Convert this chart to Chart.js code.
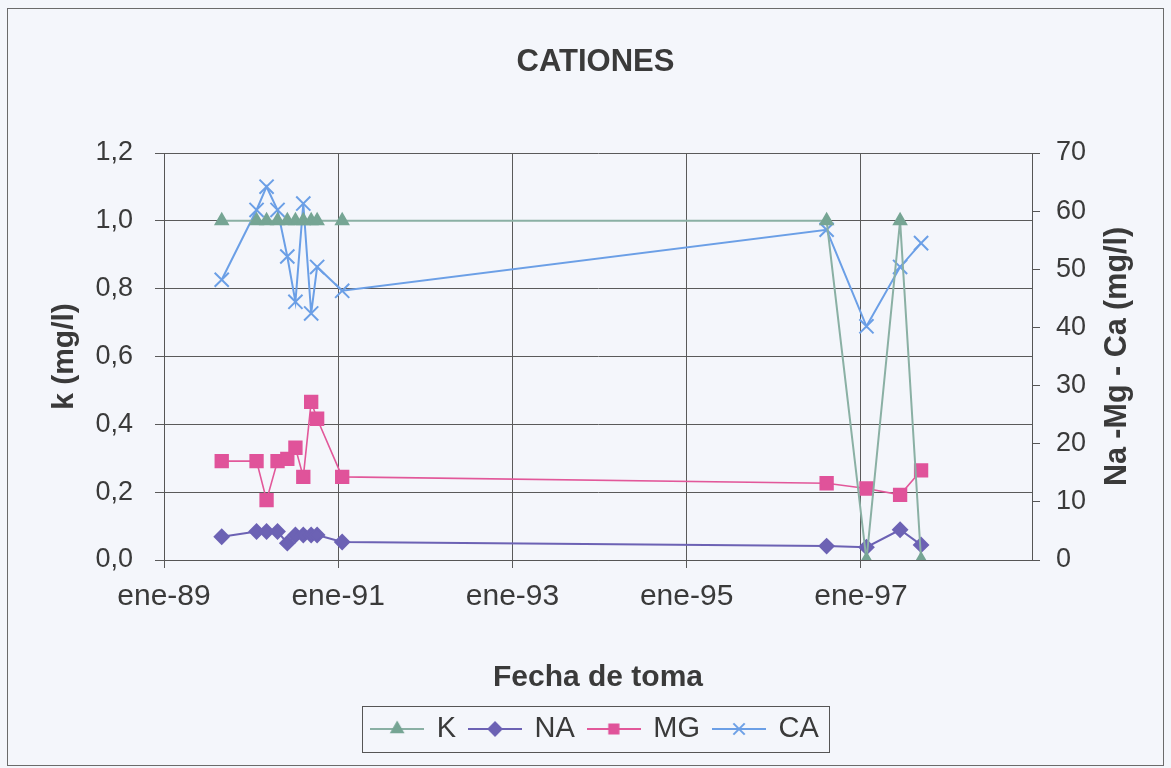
<!DOCTYPE html>
<html lang="es">
<head>
<meta charset="utf-8">
<title>Cationes</title>
<script src="https://cdn.jsdelivr.net/npm/chart.js@4.4.1/dist/chart.umd.min.js"></script>
<style>
  html, body { margin: 0; padding: 0; background: #f4f6fb; }
  #wrap { position: relative; width: 1171px; height: 768px; }
</style>
</head>
<body>
<div id="wrap"><canvas id="grafico"></canvas></div>
<script>
// Fechas de toma y concentraciones
const fechas = [
  '1989-08-31', '1990-01-24', '1990-03-07', '1990-04-22', '1990-06-02',
  '1990-07-06', '1990-08-08', '1990-09-10', '1990-10-05', '1991-01-18',
  '1996-08-10', '1997-01-24', '1997-06-14', '1997-09-10'
];
const valoresK  = [1.0, 1.0, 1.0, 1.0, 1.0, 1.0, 1.0, 1.0, 1.0, 1.0, 1.0, 0.0, 1.0, 0.0];
const valoresNA = [4.0, 4.9, 4.9, 4.9, 2.9, 4.3, 4.3, 4.3, 4.3, 3.1, 2.4, 2.2, 5.2, 2.6];
const valoresMG = [17.0, 17.0, 10.3, 17.0, 17.4, 19.3, 14.3, 27.2, 24.3, 14.3, 13.2, 12.3, 11.2, 15.4];
const valoresCA = [48.2, 60.2, 64.2, 60.2, 52.2, 44.4, 61.3, 42.4, 50.4, 46.3, 56.8, 40.2, 50.4, 54.5];

// Ejes
const ticksFechas = ['1989-01-01', '1991-01-01', '1993-01-01', '1995-01-01', '1997-01-01'];
const etiquetasX = ['ene-89', 'ene-91', 'ene-93', 'ene-95', 'ene-97'];
const fechaMin = '1989-01-01';
const fechaMax = '1998-12-19';

const FUENTE = "'Liberation Sans', Arial, sans-serif";
const GRIS = '#3a3a3a';
const ALTO = 768;
const ABAJO_AREA = 560;
const PAD_IZQ = 20;
const PAD_ABAJO = 14.5;
const ALTO_LEYENDA = 47; // alto medido de la leyenda

const dias = (f) => (Date.parse(f) - Date.parse(fechaMin)) / 864e5;
const puntos = (vals) => vals.map((v, i) => ({ x: dias(fechas[i]), y: v }));

// pequeño dibujo de linea + marcador para la leyenda
function muestra(color, relleno, estilo, radio) {
  const c = document.createElement('canvas');
  c.width = 54; c.height = 24;
  const g = c.getContext('2d');
  g.strokeStyle = color; g.lineWidth = 2;
  g.beginPath(); g.moveTo(0, 12); g.lineTo(54, 12); g.stroke();
  g.fillStyle = relleno; g.strokeStyle = relleno;
  Chart.helpers.drawPoint(g, { pointStyle: estilo, radius: radio, borderWidth: estilo === 'crossRot' ? 2 : 1, rotation: 0 }, 27, 12);
  return c;
}

const series = [
  { label: 'K', data: puntos(valoresK), yAxisID: 'yK', borderColor: '#8ab0a4', pointBackgroundColor: '#76a594', pointBorderColor: '#76a594', pointStyle: 'triangle', pointRadius: 7, borderWidth: 2 },
  { label: 'NA', data: puntos(valoresNA), yAxisID: 'yR', borderColor: '#6c62b4', pointBackgroundColor: '#6c62b4', pointBorderColor: '#6c62b4', pointStyle: 'rectRot', pointRadius: 7, borderWidth: 2 },
  { label: 'MG', data: puntos(valoresMG), yAxisID: 'yR', borderColor: '#e2589a', pointBackgroundColor: '#e0539a', pointBorderColor: '#e0539a', pointStyle: 'rect', pointRadius: 9, borderWidth: 1.6 },
  { label: 'CA', data: puntos(valoresCA), yAxisID: 'yR', borderColor: '#6b9fe6', pointBackgroundColor: '#6b9fe6', pointBorderColor: '#6b9fe6', pointStyle: 'crossRot', pointRadius: 10, pointBorderWidth: 2, borderWidth: 2 }
];
series.forEach((s) => { s.fill = false; s.tension = 0; s.pointHoverRadius = s.pointRadius; });

const marcoPlugin = {
  id: 'marco',
  beforeDraw(chart) {
    const ctx = chart.ctx;
    ctx.save();
    ctx.strokeStyle = '#6b6b6b';
    ctx.lineWidth = 1;
    ctx.strokeRect(7.5, 8.5, 1156, 757);
    ctx.restore();
  },
  afterDraw(chart) {
    const ctx = chart.ctx;
    const a = chart.chartArea;
    // titulo del eje derecho, de abajo hacia arriba
    ctx.save();
    ctx.fillStyle = GRIS;
    ctx.font = 'bold 30.5px ' + FUENTE;
    ctx.textAlign = 'center';
    ctx.textBaseline = 'middle';
    ctx.translate(1118, (a.top + a.bottom) / 2);
    ctx.rotate(-Math.PI / 2);
    ctx.fillText('Na -Mg - Ca (mg/l)', 0, 0);
    ctx.restore();
    // recuadro de la leyenda
    const cajas = chart.legend.legendHitBoxes;
    if (cajas && cajas.length) {
      const izq = Math.min(...cajas.map((b) => b.left)) - 10;
      const der = Math.max(...cajas.map((b) => b.left + b.width)) + 10;
      const arr = Math.min(...cajas.map((b) => b.top)) - 9;
      const aba = Math.max(...cajas.map((b) => b.top + b.height)) + 8;
      ctx.save();
      ctx.strokeStyle = '#555';
      ctx.lineWidth = 1;
      ctx.strokeRect(Math.round(izq) + 0.5, Math.round(arr) + 0.5, Math.round(der - izq), Math.round(aba - arr));
      ctx.restore();
    }
  }
};

new Chart(document.getElementById('grafico'), {
  type: 'line',
  data: { datasets: series },
  plugins: [marcoPlugin],
  options: {
    responsive: true,
    maintainAspectRatio: false,
    animation: false,
    layout: { padding: { left: PAD_IZQ, right: 0, top: 0, bottom: PAD_ABAJO } },
    plugins: {
      title: {
        display: true,
        text: 'CATIONES',
        color: GRIS,
        font: { family: FUENTE, size: 31, weight: 'bold' },
        padding: { top: 43.4, bottom: 72.4 }
      },
      legend: {
        position: 'bottom',
        labels: {
          color: GRIS,
          font: { family: FUENTE, size: 29 },
          usePointStyle: true,
          pointStyleWidth: 50,
          padding: 14,
          generateLabels: (chart) => chart.data.datasets.map((d, i) => ({
            text: d.label,
            fontColor: GRIS,
            pointStyle: muestra(d.borderColor, d.pointBackgroundColor, d.pointStyle, d.pointStyle === 'crossRot' ? 8 : 6.5),
            lineWidth: 0,
            strokeStyle: 'transparent',
            fillStyle: 'transparent',
            datasetIndex: i,
            hidden: false
          }))
        }
      },
      tooltip: { enabled: false }
    },
    scales: {
      x: {
        type: 'linear',
        min: dias(fechaMin),
        max: dias(fechaMax),
        afterBuildTicks: (s) => { s.ticks = ticksFechas.map((f) => ({ value: dias(f) })); },
        afterFit: (s) => { s.height = ALTO - ABAJO_AREA - (s.chart.legend.height || ALTO_LEYENDA) - PAD_ABAJO; },
        ticks: {
          autoSkip: false,
          maxRotation: 0,
          color: GRIS,
          padding: 11,
          font: { family: FUENTE, size: 30 },
          callback: (v, i) => etiquetasX[i]
        },
        grid: { color: '#5a5a5a', lineWidth: 1, tickLength: 8 },
        border: { color: '#555', width: 1 },
        title: {
          display: true,
          text: 'Fecha de toma',
          color: GRIS,
          font: { family: FUENTE, size: 30, weight: 'bold' },
          padding: { top: 0, bottom: 5 }
        }
      },
      yK: {
        position: 'left',
        min: 0,
        max: 1.2,
        afterFit: (s) => { s.width = 164 - PAD_IZQ; },
        ticks: {
          stepSize: 0.2,
          color: GRIS,
          padding: 22,
          font: { family: FUENTE, size: 27 },
          callback: (v) => v.toFixed(1).replace('.', ',')
        },
        grid: { color: '#5a5a5a', lineWidth: 1, tickLength: 9 },
        border: { color: '#555', width: 1 },
        title: {
          display: true,
          text: 'k (mg/l)',
          color: GRIS,
          font: { family: FUENTE, size: 30, weight: 'bold' },
          padding: { top: 27, bottom: 0 }
        }
      },
      yR: {
        position: 'right',
        min: 0,
        max: 70,
        afterFit: (s) => { s.width = 1171 - 1032; },
        ticks: {
          stepSize: 10,
          color: GRIS,
          padding: 16,
          font: { family: FUENTE, size: 27 }
        },
        grid: { drawOnChartArea: false, color: '#555', tickLength: 8 },
        border: { color: '#555', width: 1 }
      }
    }
  }
});
</script>
</body>
</html>
